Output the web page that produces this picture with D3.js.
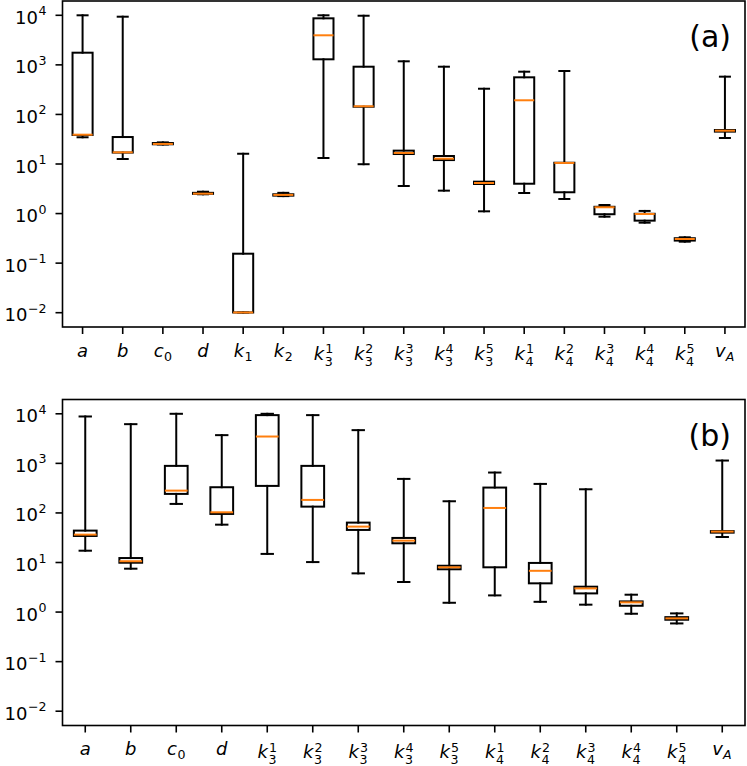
<!DOCTYPE html>
<html><head><meta charset="utf-8">
<script src="https://cdn.jsdelivr.net/npm/d3@7"></script>
<style>body{margin:0;background:#fff} svg{display:block}</style>
</head><body><svg id="c" width="747" height="766"></svg>
<script>
// ---- Panel (a) data ----
const labelsA = ["a","b","c_0","d","k_1","k_2","k_3^1","k_3^2","k_3^3","k_3^4","k_3^5","k_4^1","k_4^2","k_4^3","k_4^4","k_4^5","v_A"];
const whisLoA = [34.6, 12.6, 24.8, 2.45, 0.0101, 2.25, 13.2, 9.9, 3.6, 2.9, 1.11, 2.6, 1.97, 0.865, 0.655, 0.271, 33.5];
const q1A     = [38.5, 17.0, 25.0, 2.50, 0.0101, 2.30, 1295, 143, 15.9, 12.0, 3.95, 4.0, 2.69, 0.97, 0.72, 0.285, 45];
const medA    = [39.0, 17.2, 25.4, 2.52, 0.0101, 2.38, 3950, 146, 16.7, 12.8, 4.14, 193, 10.5, 1.34, 0.98, 0.307, 47];
const q3A     = [1760, 35.0, 26.5, 2.62, 0.155, 2.45, 8690, 918, 18.6, 14.5, 4.40, 561, 10.6, 1.37, 0.99, 0.318, 48.5];
const whisHiA = [10000, 9370, 27.3, 2.76, 16.1, 2.62, 10000, 9800, 1180, 918, 330, 728, 752, 1.49, 1.13, 0.332, 578];

// ---- Panel (b) data ----
const labelsB = ["a","b","c_0","d","k_3^1","k_3^2","k_3^3","k_3^4","k_3^5","k_4^1","k_4^2","k_4^3","k_4^4","k_4^5","v_A"];
const whisLoB = [17.3, 7.5, 152, 58, 14.9, 10.2, 6.04, 4.04, 1.54, 2.17, 1.61, 1.41, 0.925, 0.59, 32.7];
const q1B     = [34.3, 9.9, 242, 95.5, 351, 134, 45.4, 24.4, 7.3, 8.0, 3.8, 2.38, 1.34, 0.70, 40];
const medB    = [36.5, 10.6, 282, 103, 3480, 183, 53, 27.6, 8.0, 126, 6.8, 3.0, 1.57, 0.746, 42];
const q3B     = [44, 12.3, 890, 330, 9400, 890, 63.8, 31.3, 8.6, 325, 9.8, 3.25, 1.64, 0.79, 43];
const whisHiB = [8830, 6180, 10000, 3710, 10000, 9400, 4680, 486, 172, 653, 385, 300, 2.24, 0.94, 1140];

const yTickExps = [-2, -1, 0, 1, 2, 3, 4];
const panelTags = ["(a)", "(b)"];

const svg = d3.select("#c");
const FONT = "DejaVu Sans";
const LW = 2;
const left = 62.5, right = 745;

function drawLabel(g, str, x, yBase, fs) {
  let base = str[0], sub = null, sup = null;
  const m = str.slice(1).match(/^(?:_([^\^]+))?(?:\^(.+))?$/);
  if (m) { sub = m[1] || null; sup = m[2] || null; }
  const sfs = fs * 0.7;
  const both = sub && sup;
  const t = g.append("text").attr("x", 0).attr("y", 0)
    .attr("font-family", FONT).attr("font-size", fs);
  t.append("tspan").attr("font-style", "italic").text(base);
  const w = t.node().getComputedTextLength();
  let extra = 0;
  if (sup) {
    const s = t.append("tspan").attr("x", w + 1).attr("y", -(both ? 6.5 : 8))
      .attr("font-size", sfs).text(sup);
    extra = Math.max(extra, s.node().getComputedTextLength() + 1);
  }
  if (sub) {
    const isLetter = /[A-Za-z]/.test(sub);
    const s = t.append("tspan").attr("x", w + (isLetter ? 0 : 0.5)).attr("y", both ? 6 : 4)
      .attr("font-style", isLetter ? "italic" : "normal")
      .attr("font-size", sfs).text(sub);
    extra = Math.max(extra, s.node().getComputedTextLength() + 0.5);
  }
  const total = w + extra;
  const yb = yBase + (sup ? 3 : 0);
  t.attr("transform", `translate(${x - total / 2},${yb})`);
}

function panel(top, labels, lo, q1, med, q3, hi, tag) {
  const bottom = top + 326;
  const n = labels.length;
  const x = d3.scaleLinear().domain([0.5, n + 0.5]).range([left, right]);
  const y = d3.scaleLog().domain([Math.pow(10, -2.2885), Math.pow(10, 4.2885)]).range([bottom, top]);
  const g = svg.append("g");
  const bw = 0.5, cw = 0.25;

  const data = labels.map((l, i) => ({ l, pos: i + 1, lo: lo[i], q1: q1[i], med: med[i], q3: q3[i], hi: hi[i] }));
  const line = (sel, x1, y1, x2, y2, col) => sel.append("line")
    .attr("x1", x1).attr("y1", y1).attr("x2", x2).attr("y2", y2)
    .attr("stroke", col).attr("stroke-width", LW).attr("stroke-linecap", "square");

  data.forEach(d => {
    const cx = x(d.pos);
    line(g, cx, y(d.q1), cx, y(d.lo), "#000");
    line(g, cx, y(d.q3), cx, y(d.hi), "#000");
    line(g, x(d.pos - cw / 2), y(d.lo), x(d.pos + cw / 2), y(d.lo), "#000");
    line(g, x(d.pos - cw / 2), y(d.hi), x(d.pos + cw / 2), y(d.hi), "#000");
    g.append("rect").attr("x", x(d.pos - bw / 2)).attr("y", y(d.q3))
      .attr("width", x(d.pos + bw / 2) - x(d.pos - bw / 2))
      .attr("height", Math.max(0, y(d.q1) - y(d.q3)))
      .attr("fill", "none").attr("stroke", "#000").attr("stroke-width", LW)
      .attr("stroke-linejoin", "miter");
    g.append("line").attr("x1", x(d.pos - bw / 2)).attr("x2", x(d.pos + bw / 2))
      .attr("y1", y(d.med)).attr("y2", y(d.med))
      .attr("stroke", "#ff7f0e").attr("stroke-width", LW).attr("stroke-linecap", "butt");
  });

  // spines
  g.append("rect").attr("x", left).attr("y", top).attr("width", right - left).attr("height", bottom - top)
    .attr("fill", "none").attr("stroke", "#000").attr("stroke-width", 1.6);

  // x ticks + labels
  data.forEach(d => {
    const cx = x(d.pos);
    g.append("line").attr("x1", cx).attr("x2", cx).attr("y1", bottom).attr("y2", bottom + 7)
      .attr("stroke", "#000").attr("stroke-width", 1.6);
    drawLabel(g, d.l, cx, bottom + 29.5, 18);
  });

  // y ticks + labels
  yTickExps.forEach(e => {
    const yy = y(Math.pow(10, e));
    g.append("line").attr("x1", left - 7).attr("x2", left).attr("y1", yy).attr("y2", yy)
      .attr("stroke", "#000").attr("stroke-width", 1.6);
    const t = g.append("text").attr("x", 0).attr("y", 0).attr("font-family", FONT).attr("font-size", 18);
    t.append("tspan").text("10");
    const w = t.node().getComputedTextLength();
    const s = t.append("tspan").attr("x", w + 0.5).attr("y", -8.5).attr("font-size", 12.6)
      .text(e < 0 ? "\u2212" + (-e) : String(e));
    const ws = s.node().getComputedTextLength();
    t.attr("transform", `translate(${46.5 - (w + 0.5 + ws)},${yy + 8.5})`);
  });

  g.append("text").attr("x", 731).attr("y", top + 46).attr("text-anchor", "end")
    .attr("font-family", FONT).attr("font-size", 30).text(tag);
}

panel(1, labelsA, whisLoA, q1A, medA, q3A, whisHiA, panelTags[0]);
panel(399.5, labelsB, whisLoB, q1B, medB, q3B, whisHiB, panelTags[1]);
</script>
</body></html>
